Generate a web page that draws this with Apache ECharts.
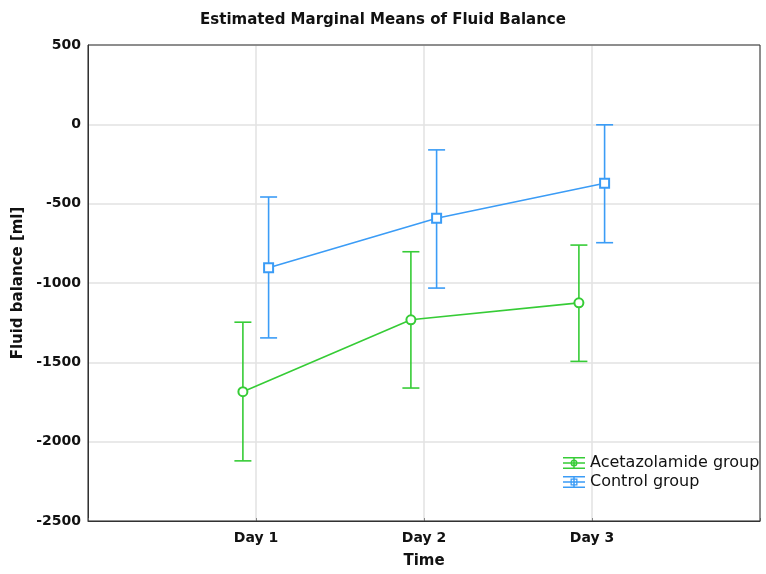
<!DOCTYPE html>
<html>
<head>
<meta charset="utf-8">
<script src="https://cdn.jsdelivr.net/npm/echarts@6/dist/echarts.min.js"></script>
<style>html,body{margin:0;padding:0;background:#fff;}#c{width:766px;height:574px;}</style>
</head>
<body>
<div id="c"></div>
<script>
const days = ['Day 1', 'Day 2', 'Day 3'];
const acetMean = [-1685, -1232, -1125];
const acetLow  = [-2121, -1662, -1494];
const acetHigh = [-1247, -803, -761];
const ctrlMean = [-904, -592, -371];
const ctrlLow  = [-1346, -1032, -746];
const ctrlHigh = [-458, -161, -3];
const yTicks = [-2500, -2000, -1500, -1000, -500, 0, 500];

const GREEN = '#36cc36';
const BLUE = '#3b9cf6';
const ACET_OFF = -0.078, CTRL_OFF = 0.075;
const FONT = 'DejaVu Sans';

function pts(vals, off) { return days.map((d, i) => [i + 1 + off, vals[i]]); }
function bars(lo, hi, off) { return days.map((d, i) => [i + 1 + off, lo[i], hi[i]]); }

function errRender(color) {
  return function (params, api) {
    const x = api.value(0);
    const top = api.coord([x, api.value(2)]);
    const bot = api.coord([x, api.value(1)]);
    const hw = 8.5;
    const st = { stroke: color, lineWidth: 1.6 };
    return {
      type: 'group',
      children: [
        { type: 'line', shape: { x1: top[0], y1: top[1], x2: bot[0], y2: bot[1] }, style: st },
        { type: 'line', shape: { x1: top[0] - hw, y1: top[1], x2: top[0] + hw, y2: top[1] }, style: st },
        { type: 'line', shape: { x1: bot[0] - hw, y1: bot[1], x2: bot[0] + hw, y2: bot[1] }, style: st }
      ]
    };
  };
}

const baseIcon = 'M0,0 H22 V1.5 H0 Z M0,10.5 H22 V12 H0 Z M0,5.25 H22 V6.75 H0 Z M10.25,0 H11.75 V12 H10.25 Z ';
const circleIcon = 'path://' + baseIcon +
  'M14.5,6 A3.5,3.5 0 1 1 7.5,6 A3.5,3.5 0 1 1 14.5,6 Z M13.1,6 A2.1,2.1 0 1 0 8.9,6 A2.1,2.1 0 1 0 13.1,6 Z';
const squareIcon = 'path://' + baseIcon +
  'M7.5,2.5 H14.5 V9.5 H7.5 Z M8.8,3.8 V8.2 H13.2 V3.8 Z';

const chart = echarts.init(document.getElementById('c'));
chart.setOption({
  animation: false,
  backgroundColor: '#fff',
  title: {
    text: 'Estimated Marginal Means of Fluid Balance',
    left: 'center',
    top: 8,
    textStyle: { fontFamily: FONT, fontSize: 15, fontWeight: 'bold', color: '#111' }
  },
  grid: {
    left: 88, right: 6, top: 45, bottom: 53, z: 5,
    show: true, borderColor: '#333', borderWidth: 1, backgroundColor: 'transparent'
  },
  legend: {
    orient: 'vertical',
    left: 563,
    top: 455,
    padding: 0,
    itemWidth: 22,
    itemHeight: 12,
    itemGap: 3,
    textStyle: { fontFamily: FONT, fontSize: 16, color: '#111' },
    data: [
      { name: 'Acetazolamide group', icon: circleIcon, itemStyle: { color: GREEN, borderWidth: 0 } },
      { name: 'Control group', icon: squareIcon, itemStyle: { color: BLUE, borderWidth: 0 } }
    ]
  },
  xAxis: {
    type: 'value',
    min: 0, max: 4, interval: 1,
    name: 'Time',
    nameLocation: 'middle',
    nameGap: 33,
    nameTextStyle: { fontFamily: FONT, fontSize: 15, fontWeight: 'bold', color: '#111' },
    axisLine: { show: true, onZero: false, lineStyle: { color: '#333', width: 1 } },
    axisTick: { show: true, inside: true, length: 3, lineStyle: { color: '#888' } },
    axisLabel: {
      margin: 10,
      fontFamily: FONT, fontSize: 14, fontWeight: 'bold', color: '#111',
      formatter: v => (v >= 1 && v <= days.length ? days[v - 1] : '')
    },
    splitLine: { show: true, lineStyle: { color: '#e2e2e2', width: 1.5 } }
  },
  yAxis: {
    type: 'value',
    min: yTicks[0], max: yTicks[yTicks.length - 1], interval: 500,
    name: 'Fluid balance [ml]',
    nameLocation: 'middle',
    nameGap: 58,
    nameTextStyle: { fontFamily: FONT, fontSize: 15, fontWeight: 'bold', color: '#111' },
    axisLine: { show: true, onZero: false, lineStyle: { color: '#333', width: 1 } },
    axisTick: { show: false },
    axisLabel: { margin: 7, fontFamily: FONT, fontSize: 14, fontWeight: 'bold', color: '#111',
      formatter: v => String(v) },
    splitLine: { show: true, lineStyle: { color: '#e2e2e2', width: 1.5 } }
  },
  series: [
    {
      name: 'Acetazolamide group', type: 'custom', z: 2,
      renderItem: errRender(GREEN),
      data: bars(acetLow, acetHigh, ACET_OFF),
      itemStyle: { color: GREEN }
    },
    {
      name: 'Control group', type: 'custom', z: 2,
      renderItem: errRender(BLUE),
      data: bars(ctrlLow, ctrlHigh, CTRL_OFF),
      itemStyle: { color: BLUE }
    },
    {
      name: 'Acetazolamide group', type: 'line', z: 3,
      data: pts(acetMean, ACET_OFF),
      symbol: 'emptyCircle', symbolSize: 9,
      lineStyle: { color: GREEN, width: 1.6 },
      itemStyle: { color: GREEN, borderWidth: 1.6 }
    },
    {
      name: 'Control group', type: 'line', z: 3,
      data: pts(ctrlMean, CTRL_OFF),
      symbol: 'emptyRect', symbolSize: 9,
      lineStyle: { color: BLUE, width: 1.6 },
      itemStyle: { color: BLUE, borderWidth: 1.6 }
    }
  ]
});
</script>
</body>
</html>
